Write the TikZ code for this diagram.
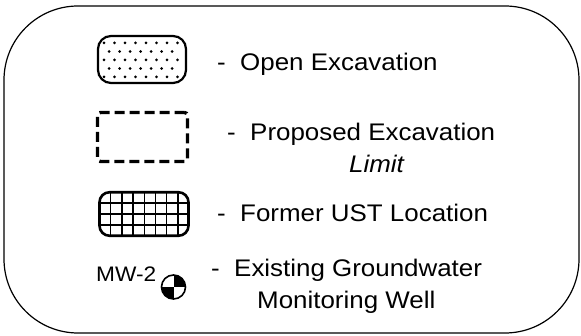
\documentclass[tikz,border=0pt]{standalone}
\usepackage{fontspec}
\setmainfont{Liberation Sans}[FakeStretch=1.08]
\begin{document}
\begin{tikzpicture}[x=1pt,y=-1pt,
  lbl/.style={anchor=base west, inner sep=0pt, font=\fontsize{24}{28}\selectfont},
  openbox/.style={draw, line width=2.2pt, rounded corners=13pt, inner sep=0pt, minimum width=88pt, minimum height=47pt},
  propbox/.style={draw, line width=3.4pt, dash pattern=on 10pt off 5pt, rounded corners=3pt, inner sep=0pt, minimum width=90pt, minimum height=49pt},
  ustbox/.style={draw, line width=2.6pt, rounded corners=10pt, inner sep=0pt, minimum width=89pt, minimum height=43.5pt,
    path picture={
      \foreach \i in {1,...,7}
        \draw[line width=1.5pt] ([xshift=\i*11.2pt]path picture bounding box.north west) -- ([xshift=\i*11.2pt]path picture bounding box.south west);
      \foreach \j in {1,2,3}
        \draw[line width=1.5pt] ([yshift=-\j*10.9pt]path picture bounding box.north west) -- ([yshift=-\j*10.9pt]path picture bounding box.north east);
    }},
  wellsym/.style={circle, draw, line width=1.6pt, inner sep=0pt, minimum size=24pt,
    path picture={
      \fill (path picture bounding box.center) rectangle (path picture bounding box.north east);
      \fill (path picture bounding box.center) rectangle (path picture bounding box.south west);
    }}
]
\useasboundingbox (0,0) rectangle (581,336);
\draw[line width=1.2pt, rounded corners=74pt] (4,6) rectangle (579,333);

% open excavation
\node[openbox] (open) at (142,59.5) {};
\foreach \r/\y in {0/43,1/51.5,2/60,3/68.5,4/77}{
  \pgfmathsetmacro{\off}{mod(\r,2)==0 ? 0 : 5.2}
  \foreach \c in {0,...,7}{
    \pgfmathsetmacro{\xx}{104+\off+\c*10.5}
    \ifdim\xx pt<182pt
      \fill (\xx,\y) circle[radius=1.5pt];
    \fi
  }
}

% proposed excavation limit
\node[propbox] (prop) at (142.5,137) {};

% former UST
\node[ustbox] (ust) at (144,214) {};

% well
\node[wellsym] (well) at (173.5,287) {};
\node[lbl, font=\fontsize{21}{25}\selectfont] (mw) at (96,282) {MW-2};

% labels
\node[lbl] (t1) at (217,71) {-~~Open Excavation};
\node[lbl] (t2) at (227,141) {-~~Proposed Excavation};
\node[lbl, font=\fontsize{24}{28}\selectfont\itshape] (t2b) at (349,173) {Limit};
\node[lbl] (t3) at (217,222) {-~~Former UST Location};
\node[lbl] (t4) at (211,277) {-~~Existing Groundwater};
\node[lbl] (t4b) at (257,309) {Monitoring Well};
\end{tikzpicture}
\end{document}
